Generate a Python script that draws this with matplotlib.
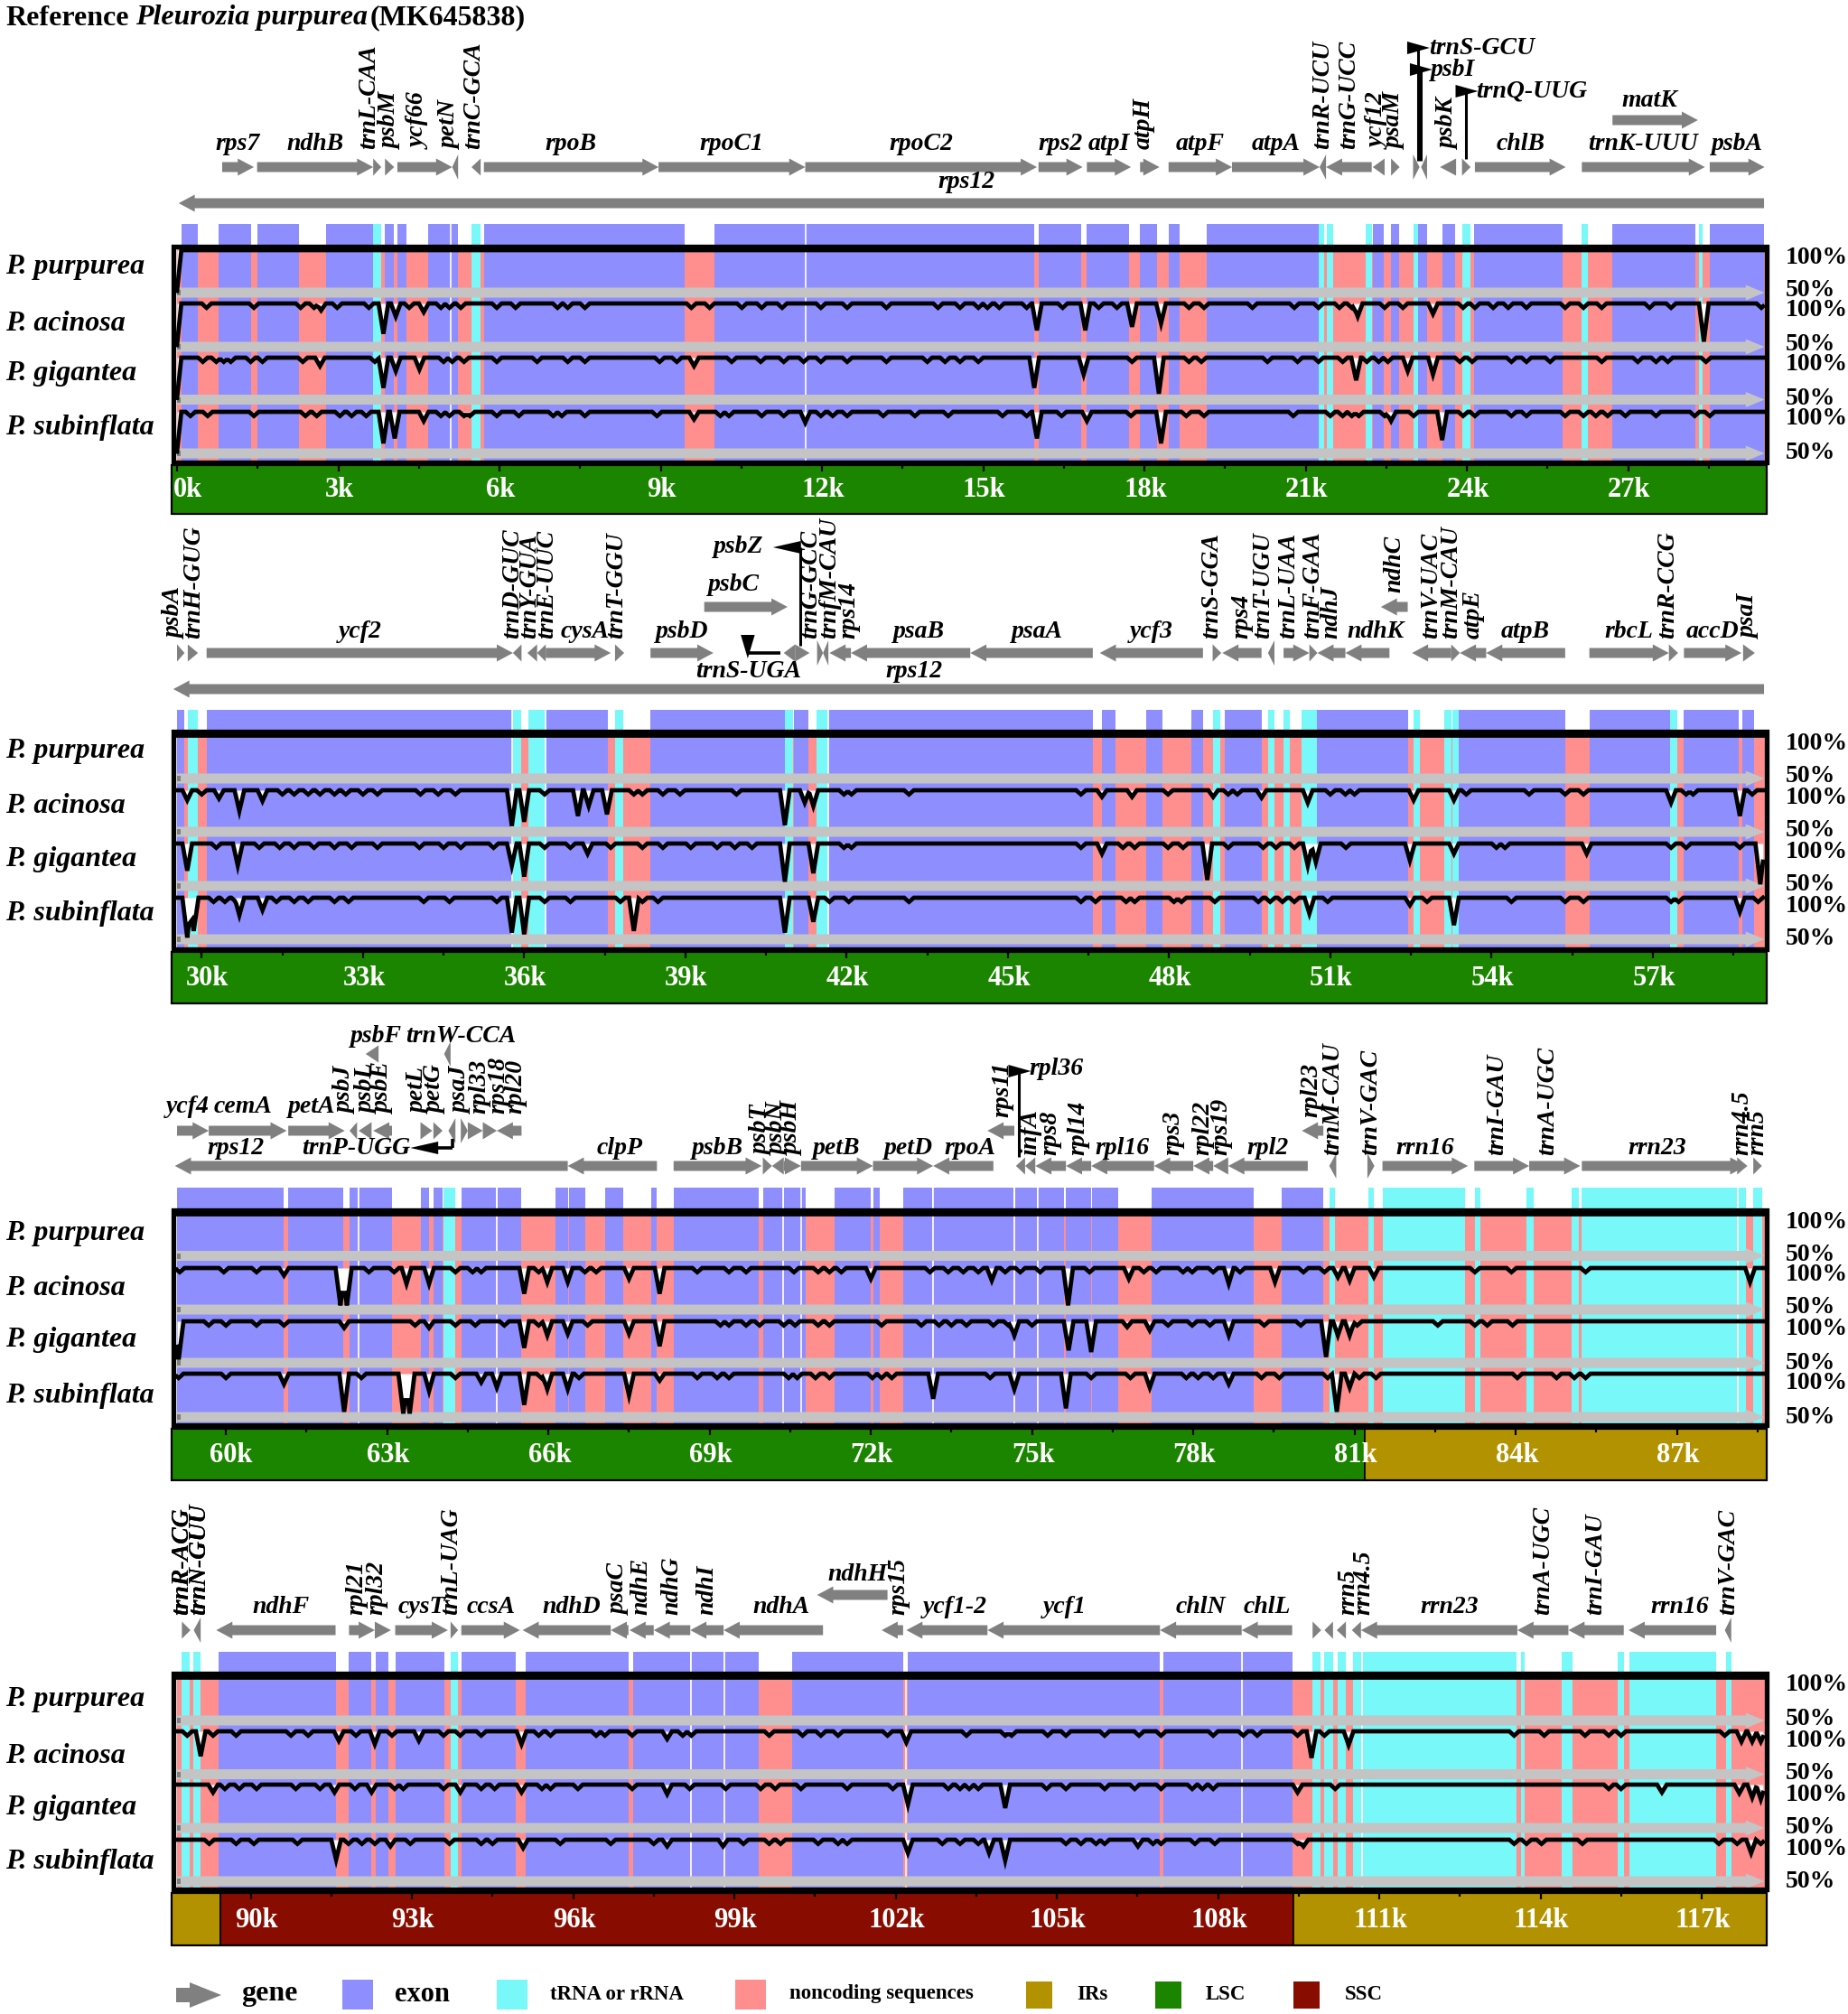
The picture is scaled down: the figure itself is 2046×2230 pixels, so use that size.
import numpy as np
import matplotlib
matplotlib.use("Agg")
import matplotlib.pyplot as plt
from matplotlib.patches import Rectangle

plt.rcParams['font.family'] = ['Liberation Serif', 'DejaVu Serif']

SPECIES = ["P. purpurea", "P. acinosa", "P. gigantea", "P. subinflata"]

# genes: name, start kb, end kb, strand
P1_GENES = [("rps7",0.84,1.43,1),("ndhB",1.49,3.65,1),("trnL-CAA",3.65,3.80,1),("psbM",3.87,4.04,1),
    ("ycf66",4.10,5.12,1),("petN",5.12,5.23,-1),("trnC-GCA",5.48,5.65,-1),("rpoB",5.71,8.96,1),
    ("rpoC1",8.96,11.69,1),("rpoC2",11.69,16.0,1),("rps2",16.03,16.85,1),("atpI",16.93,17.75,1),
    ("atpH",17.92,18.28,1),("atpF",18.45,19.63,1),("atpA",19.63,21.26,1),("trnR-UCU",21.26,21.38,-1),
    ("trnG-UCC",21.38,22.23,-1),("ycf12",22.25,22.47,-1),("psaM",22.59,22.75,1),("trnS-GCU",23.0,23.12,1),
    ("psbI",23.15,23.26,-1),("psbK",23.5,23.8,-1),("trnQ-UUG",23.91,24.07,1),("chlB",24.15,25.84,1),
    ("trnK-UUU",26.14,28.43,1),("matK",26.71,28.3,1),("psbA",28.52,29.54,1),("rps12",0.03,29.53,-1)]
P2_GENES = [("psbA",29.54,29.68,1),("trnH-GUG",29.74,29.93,1),("ycf2",30.09,35.79,1),("trnD-GUC",35.79,35.95,-1),
    ("trnY-GUA",36.06,36.24,-1),("trnE-UUC",36.24,36.40,-1),("cysA",36.40,37.61,1),("trnT-GGU",37.69,37.86,1),
    ("psbD",38.35,39.52,1),("psbC",39.35,40.9,1),("trnS-UGA",40.83,41.04,-1),("psbZ",41.04,41.31,1),
    ("trnG-GCC",41.45,41.56,1),("trnfM-CAU",41.56,41.66,-1),("rps14",41.68,42.08,-1),("psaB",42.08,44.30,-1),
    ("psaA",44.30,46.58,-1),("ycf3",46.71,48.63,-1),("trnS-GGA",48.81,48.97,1),("rps4",48.99,49.72,-1),
    ("trnT-UGU",49.84,49.96,-1),("trnL-UAA",50.13,50.61,1),("trnF-GAA",50.61,50.76,1),("ndhJ",50.76,51.28,-1),
    ("ndhK",51.28,52.10,-1),("ndhC",51.94,52.44,-1),("trnV-UAC",52.52,53.25,-1),("trnM-CAU",53.25,53.41,1),
    ("atpE",53.41,53.9,-1),("atpB",53.9,55.37,-1),("rbcL",55.82,57.3,1),("trnR-CCG",57.3,57.47,1),
    ("accD",57.58,58.65,1),("psaI",58.68,58.9,1),("rps12",29.47,59.07,-1)]
P3_GENES = [("ycf4",59.09,59.68,1),("cemA",59.68,61.13,1),("petA",61.16,62.21,1),("psbJ",62.3,62.44,-1),
    ("psbL",62.47,62.71,-1),("psbF",62.6,62.84,-1),("psbE",62.74,63.09,-1),("petL",63.62,63.84,1),
    ("petG",63.86,64.03,1),("trnW-CCA",64.06,64.18,-1),("trnP-UGG",64.14,64.27,-1),("psaJ",64.37,64.5,1),
    ("rpl33",64.5,64.78,1),("rps18",64.78,65.04,1),("rpl20",65.04,65.5,-1),("rps12",59.05,66.36,-1),
    ("clpP",66.36,68.02,-1),("psbB",68.33,69.97,1),("psbT",69.99,70.16,1),("psbN",70.16,70.38,-1),
    ("psbH",70.38,70.7,1),("petB",70.7,72.04,1),("petD",72.04,73.16,1),("rpoA",73.16,74.28,-1),
    ("rps11",74.17,74.67,-1),("rpl36",74.7,74.87,-1),("infA",74.87,75.06,-1),("rps8",75.06,75.63,-1),
    ("rpl14",75.63,76.1,-1),("rpl16",76.1,77.27,-1),("rps3",77.27,78.0,-1),("rpl22",78.0,78.37,-1),
    ("rps19",78.37,78.65,-1),("rpl2",78.65,80.13,-1),("rpl23",80.02,80.42,-1),("trnM-CAU",80.53,80.66,-1),
    ("trnV-GAC",81.24,81.37,1),("rrn16",81.52,83.11,1),("trnI-GAU",83.23,84.25,1),("trnA-UGC",84.25,85.2,1),
    ("rrn23",85.23,88.29,1),("rrn4.5",88.12,88.31,1),("rrn5",88.42,88.58,1)]
P4_GENES = [("trnR-ACG",88.72,88.88,1),("trnN-GUU",88.94,89.07,-1),("ndhF",89.36,91.58,-1),("rpl21",91.83,92.31,1),
    ("rpl32",92.31,92.61,1),("cysT",92.69,93.67,1),("trnL-UAG",93.72,93.86,1),("ccsA",93.92,95.01,1),
    ("ndhD",95.06,96.7,-1),("psaC",96.7,97.03,-1),("ndhE",97.05,97.5,-1),("ndhG",97.5,98.18,-1),
    ("ndhI",98.18,98.8,-1),("ndhA",98.8,100.65,-1),("ndhH",100.54,101.85,-1),("rps15",101.74,102.14,-1),
    ("ycf1-2",102.2,103.71,-1),("ycf1",103.71,106.92,-1),("chlN",106.92,108.44,-1),("chlL",108.44,109.38,-1),
    ("trnN-GUU",109.76,109.92,1),("trnR-ACG",109.98,110.14,-1),("rrn5",110.21,110.38,-1),("rrn4.5",110.49,110.66,-1),
    ("rrn23",110.66,113.57,-1),("trnA-UGC",113.57,114.52,-1),("trnI-GAU",114.52,115.55,-1),("rrn16",115.64,117.27,-1),
    ("trnV-GAC",117.43,117.55,-1)]

# exon and tRNA/rRNA intervals (kb)
P1_EXON = [(0.08,0.38),(0.78,1.38),(1.49,2.27),(2.78,3.65),(3.87,4.04),(4.10,4.27),(4.68,5.23),(5.71,9.45),
    (10.0,15.95),(16.04,16.82),(16.93,17.71),(17.92,18.23),(18.45,18.66),(19.16,21.24),(22.25,22.45),(22.59,22.74),
    (23.10,23.26),(23.54,23.78),(24.13,25.78),(26.71,28.25),(28.52,29.53)]
P1_RNA = [(3.65,3.80),(5.48,5.65),(21.24,21.35),(21.40,21.51),(22.12,22.23),(23.01,23.10),(23.91,24.07),(26.14,26.26),(28.32,28.39)]
P1_WHITE = [5.09,11.69]
P2_EXON = [(29.54,29.68),(30.09,35.77),(36.40,37.56),(38.35,40.85),(41.02,41.28),(41.66,46.58),(46.75,47.0),(47.57,47.87),
    (48.42,48.63),(49.03,49.72),(50.75,52.44),(53.39,55.37),(55.82,57.32),(57.58,58.6),(58.67,58.89)]
P2_RNA = [(29.75,29.92),(35.79,35.95),(36.08,36.40),(37.69,37.85),(40.85,41.0),(41.44,41.66),(48.81,48.95),(49.84,49.96),
    (50.13,50.24),(50.47,50.75),(52.55,52.66),(53.12,53.25),(53.27,53.39),(57.32,57.46)]
P2_WHITE = [35.77,36.40,41.66]
P3_EXON = [(59.09,61.08),(61.16,62.18),(62.3,62.45),(62.47,63.09),(63.63,63.78),(63.87,64.03),(64.38,65.03),(65.05,65.5),
    (66.14,66.36),(66.38,66.68),(67.05,67.4),(67.91,68.02),(68.33,69.92),(69.99,70.36),(70.38,70.78),(71.33,72.0),
    (72.05,72.16),(72.6,73.14),(73.16,74.66),(74.68,75.09),(75.11,75.6),(75.63,76.1),(76.12,76.6),(77.22,79.12),(79.64,80.41)]
P3_RNA = [(64.05,64.27),(80.53,80.64),(81.25,81.36),(81.53,83.06),(83.24,83.34),(84.2,84.34),(85.04,85.17),(85.23,88.12),(88.15,88.29),(88.42,88.58)]
P3_WHITE = [62.46,65.04,70.37,70.71,73.15,74.67,75.1,88.13]
P4_EXON = [(89.41,91.58),(91.83,92.24),(92.32,92.57),(92.69,93.61),(93.92,94.94),(95.11,97.03),(97.11,98.18),(98.2,98.8),
    (98.82,99.46),(100.07,102.14),(102.23,106.92),(106.98,108.44),(108.46,109.38)]
P4_RNA = [(88.71,88.87),(88.94,89.06),(93.73,93.86),(109.75,109.9),(109.97,110.14),(110.22,110.38),(110.51,110.66),(110.69,113.55),
    (113.63,113.7),(114.4,114.6),(115.44,115.55),(115.66,117.27),(117.45,117.55)]
P4_WHITE = [98.19,98.81,102.19,108.45,110.68]

# region bands: kb from, kb to, name
P1_REGION = [(0.0,29.54,"LSC")]
P2_REGION = [(29.54,59.09,"LSC")]
P3_REGION = [(59.09,81.19,"LSC"),(81.19,88.63,"IR")]
P4_REGION = [(88.63,89.43,"IR"),(89.43,109.40,"SSC"),(109.40,118.17,"IR")]

# identity dips: small ones (about 95%) and deep ones as (kb, % identity)
EDGE_P1 = [(0.0,52)]
P1_ACI_SMALL = [0.55,1.43,2.3,2.55,2.98,3.57,4.32,4.91,5.07,5.28,5.95,6.3,7.08,7.27,7.59,9.57,9.91,10.51,10.88,11.26,11.98,12.47,13.2,
    14.16,14.57,14.91,15.08,15.3,15.81,16.48,17.15,17.49,18.83,19.11,20.01,20.79,21.24,21.63,21.86,22.47,22.81,23.93,24.15,24.49,24.77,
    25.11,25.83,26.17,26.51,27.4,27.8,29.48]
P1_ACI_DEEP = [(2.68,92),(3.84,65),(4.07,85),(4.59,90),(16.0,69),(16.9,69),(17.77,73),(18.31,77),(21.97,85),(23.37,88),(28.41,56)]
P1_GIG_SMALL = [0.48,0.73,0.87,1.0,1.37,1.59,2.34,3.68,4.96,5.12,5.34,5.95,6.7,7.27,7.59,8.98,9.3,10.32,10.86,11.29,11.66,11.98,12.47,13.2,
    13.96,14.29,14.57,14.91,17.77,18.83,19.06,20.29,20.85,21.24,21.69,22.14,22.36,22.53,23.87,24.1,24.83,25.11,25.55,26.51,27.18,27.52,27.74,28.45]
P1_GIG_DEEP = [(2.66,90),(3.84,64),(4.07,84),(4.51,86),(9.62,90),(15.95,64),(16.87,80),(18.27,57),(21.94,73),(22.9,84),(23.37,80)]
P1_SUB_SMALL = [0.25,0.57,1.43,2.39,2.6,3.03,3.25,3.52,4.91,5.07,5.34,5.45,5.95,6.36,7.0,7.16,7.59,8.93,10.11,10.27,10.88,11.29,11.98,12.2,12.47,13.14,
    13.73,14.35,15.36,15.81,16.46,17.75,18.78,19.11,20.77,21.46,21.69,21.86,21.99,22.47,23.01,23.93,24.15,24.83,25.11,25.83,26.17,26.4,26.62,26.95,27.52,28.24,28.52]
P1_SUB_DEEP = [(3.84,62),(4.05,68),(4.59,89),(9.62,91),(11.69,87),(16.0,68),(16.93,89),(18.31,62),(22.59,89),(23.54,66)]

P2_ACI_SMALL = [30.0,31.5,31.72,31.98,32.2,32.47,32.68,33.0,33.27,34.07,34.4,34.72,36.38,38.04,38.2,38.58,38.9,39.95,41.95,42.09,
    43.16,46.36,47.98,49.1,49.27,51.0,51.28,51.45,54.7,55.37,55.71,57.62,57.75,53.53,58.85]
P2_ACI_DEEP = [(29.73,88),(30.32,90),(30.7,75),(31.13,87),(35.77,57),(36.0,62),(37.0,69),(37.2,81),(37.54,71),(40.85,58),(41.22,85),(41.38,81),
    (46.75,92),(47.31,92),(48.82,92),(49.72,91),(50.58,85),(52.55,88),(53.3,88),(57.34,85),(58.62,69)]
P2_GIG_SMALL = [30.27,31.07,31.45,31.72,32.09,32.47,32.79,33.27,34.05,34.5,34.82,35.43,36.38,36.86,37.61,38.2,38.58,39.1,39.59,39.92,40.24,41.95,42.09,
    46.36,47.14,47.36,47.98,48.26,49.1,49.75,49.99,50.33,51.29,54.09,54.25,57.34,57.62,58.62]
P2_GIG_DEEP = [(29.73,68),(30.67,74),(35.77,74),(36.0,61),(37.18,88),(40.85,55),(41.38,65),(46.75,88),(48.71,57),(50.58,74),(50.73,78),(52.48,80),(53.3,88),(55.77,88),(59.0,52)]
P2_SUB_SMALL = [30.22,30.43,30.64,31.39,31.72,31.98,32.47,32.73,34.13,34.61,35.49,36.38,36.86,37.79,38.2,38.49,41.68,42.04,
    43.16,46.36,46.63,47.2,47.36,48.09,48.23,48.85,49.66,49.88,50.11,50.33,50.95,52.8,54.37,55.37,55.71,57.34,57.48,58.96]
P2_SUB_DEEP = [(29.73,52),(29.85,60),(30.7,79),(31.13,85),(35.77,58),(36.0,56),(38.04,60),(40.85,58),(41.38,71),(50.61,81),(52.48,91),(53.3,67),(58.62,83)]

P3_ACI_SMALL = [59.14,59.96,60.57,62.66,63.13,64.27,64.59,64.75,65.82,66.68,66.89,68.77,69.36,69.68,70.57,71.02,71.23,71.45,
    73.1,73.44,73.72,74.0,74.5,74.78,75.15,76.07,77.08,77.31,77.81,77.98,78.37,78.87,80.05,80.44,83.24,83.92,85.3]
P3_ACI_DEEP = [(61.08,91),(62.13,55),(62.25,55),(63.36,81),(63.78,81),(65.55,69),(65.98,83),(66.36,83),(67.5,87),(68.07,69),(72.0,87),
    (74.25,85),(75.67,55),(76.8,87),(78.66,81),(79.52,83),(80.69,89),(80.91,85),(81.36,89),(88.36,83)]
P3_GIG_SMALL = [59.68,60.0,60.57,61.08,63.52,64.27,64.64,65.18,65.82,66.73,69.2,69.36,69.68,69.93,70.38,70.59,71.02,71.23,72.2,
    72.94,73.27,73.5,73.78,74.28,74.56,75.0,77.53,77.98,78.31,79.32,80.0,81.05,82.55,83.24,83.47,83.94]
P3_GIG_DEEP = [(59.12,54),(62.2,92),(63.78,92),(65.55,68),(65.98,83),(66.36,85),(67.5,85),(68.07,70),(74.67,83),(75.68,65),(76.1,63),(76.77,93),(77.19,89),
    (78.66,83),(80.47,57),(80.69,83),(80.91,83)]
P3_SUB_SMALL = [59.12,60.0,62.52,64.27,65.87,66.57,68.77,69.14,69.36,70.47,70.63,70.97,71.23,72.03,72.2,72.39,
    74.22,76.1,76.83,77.87,78.09,78.37,79.27,79.6,80.5,81.09,81.4,84.03,84.76,85.09,85.3]
P3_SUB_DEEP = [(61.08,88),(62.2,56),(63.3,54),(63.42,54),(63.78,80),(64.75,90),(65.04,84),(65.55,64),(65.98,82),(66.36,82),(67.5,75),(68.07,92),
    (73.16,71),(74.67,82),(75.63,60),(77.19,84),(78.66,88),(80.67,56),(80.91,84)]

P4_ACI_SMALL = [88.82,89.3,89.73,90.75,91.07,91.96,92.63,93.59,93.9,94.29,95.36,95.58,96.43,96.59,97.1,98.04,98.2,99.65,100.27,100.61,100.93,101.85,
    103.32,104.04,104.16,104.83,105.17,105.89,106.53,106.94,107.91,108.47,108.73,109.48,109.98,113.51,114.07,114.83,115.27,115.5,117.43]
P4_ACI_DEEP = [(89.07,71),(91.64,89),(92.31,85),(93.13,89),(95.04,85),(97.75,91),(102.2,87),(109.74,69),(110.43,84),(117.74,88),(117.94,88),(118.1,88)]
P4_GIG_SMALL = [89.52,89.79,90.11,90.84,91.29,91.94,92.68,92.84,93.59,94.29,94.54,95.42,95.58,96.09,97.1,98.17,98.84,99.49,99.76,100.24,101.1,101.95,
    102.98,103.2,103.37,103.54,104.81,105.17,105.89,106.45,106.94,107.52,107.71,107.91,110.18,115.27,115.5]
P4_GIG_DEEP = [(89.3,91),(91.56,91),(92.25,91),(93.9,91),(95.04,91),(97.75,89),(102.23,77),(104.04,73),(109.48,91),(116.26,91),(117.7,90),(117.94,85),(118.1,83)]
P4_SUB_SMALL = [89.23,89.73,90.06,90.87,91.82,92.07,92.31,92.97,93.7,94.29,94.5,95.76,96.7,97.5,99.17,99.65,99.86,100.56,100.93,101.1,
    102.87,103.2,103.54,105.17,105.45,105.73,105.89,106.79,106.94,107.57,107.94,109.48,113.51,113.74,114.02,114.78,117.32,117.66,118.1]
P4_SUB_DEEP = [(91.59,76),(92.6,92),(95.07,90),(97.75,92),(98.79,92),(102.23,84),(103.74,84),(104.04,75),(106.51,92),(109.59,92),(117.92,84)]

CONS = "#808080"

# layout per panel, in figure pixels
PANELS = [
    dict(start=0.0, genes=P1_GENES, exon=P1_EXON, rna=P1_RNA, white=P1_WHITE, region=P1_REGION,
         dips=[(EDGE_P1,[],[]),(EDGE_P1,P1_ACI_SMALL,P1_ACI_DEEP),(EDGE_P1,P1_GIG_SMALL,P1_GIG_DEEP),(EDGE_P1,P1_SUB_SMALL,P1_SUB_DEEP)],
         exon_y=(248,271), box_y=(273,512), band_y=(515,569),
         tops=[277,336,396,456], grays=[324,384,442.5,502], name_y=[295,358,414,474], pct_y=[(285,321),(344,381),(404,441),(464,501)],
         row=185, rows={"matK":133,"rps12":225}, rot_off=20, hor_off=25,
         rotated={"trnL-CAA","psbM","ycf66","petN","trnC-GCA","atpH","trnR-UCU","trnG-UCC","ycf12","psaM","psbK"},
         label_xy={"rps12":(14.69,202),"matK":(27.4,111),"trnL-CAA":(3.57,None),"psbM":(3.98,None),"ycf66":(4.51,None),"petN":(5.09,None),"trnC-GCA":(5.52,None),
                   "atpH":(17.99,None),"trnS-GCU":None,"psbI":None,"trnQ-UUG":None},
         flags=[("trnS-GCU",23.09,178,53,"r",23.3,53),("psbI",23.14,178,77,"r",23.32,77),("trnQ-UUG",23.99,176,101,"r",24.17,101)]),
    dict(start=29.54, genes=P2_GENES, exon=P2_EXON, rna=P2_RNA, white=P2_WHITE, region=P2_REGION,
         dips=[([],[],[]),([],P2_ACI_SMALL,P2_ACI_DEEP),([],P2_GIG_SMALL,P2_GIG_DEEP),([],P2_SUB_SMALL,P2_SUB_DEEP)],
         exon_y=(786,808), box_y=(810,1051), band_y=(1054,1111),
         tops=[814,875,934,994], grays=[862,921,981,1040], name_y=[832,893,951,1011], pct_y=[(824,859),(884,920),(944,980),(1004,1040)],
         row=723, rows={"psbC":672,"ndhC":672,"rps12":763}, rot_off=16, hor_off=23,
         rotated={"psbA","trnH-GUG","trnD-GUC","trnY-GUA","trnE-UUC","trnT-GGU","trnG-GCC","trnfM-CAU","rps14","trnS-GGA","rps4","trnT-UGU",
                  "trnL-UAA","trnF-GAA","ndhJ","ndhC","trnV-UAC","trnM-CAU","atpE","trnR-CCG","psaI"},
         label_xy={"rps12":(43.26,744),"psbC":(39.9,647),"psbA":(29.5,None),"trnH-GUG":(29.86,None),"trnD-GUC":(35.79,None),"trnY-GUA":(36.11,None),"trnE-UUC":(36.43,None),
                   "trnT-GGU":(37.72,None),"trnG-GCC":(41.34,None),"trnfM-CAU":(41.68,None),"rps14":(42.04,None),"cysA":(37.13,None),"psaB":(43.34,None),"psaA":(45.54,None),
                   "trnS-GGA":(48.8,None),"trnT-UGU":(49.75,None),"trnL-UAA":(50.22,None),"ndhK":(51.85,None),"trnM-CAU":(53.25,None),"trnR-CCG":(57.28,None),
                   "trnS-UGA":None,"psbZ":None},
         flags=[("psbZ",41.13,715,606,"l",39.99,606),("trnS-UGA",40.77,723,723,"d",40.18,744)]),
    dict(start=59.09, genes=P3_GENES, exon=P3_EXON, rna=P3_RNA, white=P3_WHITE, region=P3_REGION,
         dips=[([],[],[]),([],P3_ACI_SMALL,P3_ACI_DEEP),([],P3_GIG_SMALL,P3_GIG_DEEP),([],P3_SUB_SMALL,P3_SUB_DEEP)],
         exon_y=(1315,1338), box_y=(1340,1578), band_y=(1582,1639),
         tops=[1344,1404,1463,1521], grays=[1390.5,1450,1509,1569], name_y=[1365,1427,1484,1545], pct_y=[(1353,1389),(1412,1448),(1472,1509),(1532,1569)],
         row=1291,
         rows={n:1252 for n in ("ycf4","cemA","petA","psbJ","psbL","psbE","petL","petG","trnP-UGG","psaJ","rpl33","rps18","rpl20","rps11","rpl23")}|{"psbF":1167,"trnW-CCA":1167},
         rot_off=12, hor_off=19,
         rotated={"psbJ","psbL","psbE","petL","petG","psaJ","rpl33","rps18","rpl20","psbT","psbN","psbH","rps11","infA","rps8","rpl14","rps3","rpl22","rps19","rpl23",
                  "trnM-CAU","trnV-GAC","trnI-GAU","trnA-UGC","rrn4.5","rrn5"},
         label_xy={"ycf4":(59.28,1225),"cemA":(60.32,1225),"petA":(61.59,1225),"psbJ":(62.23,1233),"psbL":(62.63,1233),"psbE":(62.93,1233),"petL":(63.59,1233),"petG":(63.91,1233),
                   "psaJ":(64.37,1233),"rpl33":(64.72,1233),"rps18":(65.07,1233),"rpl20":(65.39,1233),"rps11":(74.45,1237),"rpl23":(80.2,1237),"psbF":(62.79,1147),"trnW-CCA":(64.37,1147),
                   "rps12":(60.19,1272),"clpP":(67.32,None),"psbT":(69.97,None),"petD":(72.71,None),"rpoA":(73.85,None),"trnA-UGC":(84.59,None),"trnI-GAU":(83.66,None),"rrn23":(86.64,None),
                   "trnP-UGG":None,"rpl36":None},
         flags=[("trnP-UGG",64.21,1261,1271,"l",63.43,1272),("rpl36",74.76,1281,1186,"r",74.95,1184)]),
    dict(start=88.63, genes=P4_GENES, exon=P4_EXON, rna=P4_RNA, white=P4_WHITE, region=P4_REGION,
         dips=[([],[],[]),([],P4_ACI_SMALL,P4_ACI_DEEP),([],P4_GIG_SMALL,P4_GIG_DEEP),([],P4_SUB_SMALL,P4_SUB_DEEP)],
         exon_y=(1829,1851), box_y=(1853,2092), band_y=(2096,2154),
         tops=[1857,1917,1976,2037], grays=[1905,1964.5,2024,2083], name_y=[1881,1944,2001,2062], pct_y=[(1866,1903),(1927,1963),(1987,2023),(2047,2083)],
         row=1805, rows={"ndhH":1766}, rot_off=17, hor_off=26,
         rotated={"trnR-ACG","trnN-GUU","rpl21","rpl32","trnL-UAG","psaC","ndhE","ndhG","ndhI","rps15","trnR-ACG","rrn5","rrn4.5","trnA-UGC","trnI-GAU","trnV-GAC"},
         label_xy={"ndhH":(101.29,1744),"trnR-ACG":(88.72,None),"trnN-GUU":(89.04,None),"rpl21":(91.98,None),"rpl32":(92.34,None),"trnL-UAG":(93.73,None),"ndhF":(90.56,None),
                   "ndhD":(95.97,None),"ndhA":(99.87,None),"rps15":(102.06,None),"ycf1-2":(103.11,None),"ycf1":(105.14,None),"rrn5":(110.43,None),"rrn4.5":(110.71,None),
                   "rrn23":(112.31,None),"rrn16":(116.59,None)},
         flags=[]),
]

PX_PER_KB = 59.5
LEFT_PX = 196
W, H = 2046, 2230
COL_EXON, COL_RNA, COL_NC = "#8e8eff", "#78f8f8", "#ff8e8e"
COL_REGION = {"LSC": "#1c8500", "IR": "#b39200", "SSC": "#880c00"}
SERIF = dict(weight="bold", style="italic")


def gene_arrow(ax, x0, x1, y, strand, color=CONS):
    # plain block arrow, kb along x and pixels along y
    width = x1 - x0
    head = 0.3
    bar = 5.5
    half = 9.5
    if width < 0.14:
        half = 14
    if width <= head:
        xs = [x0, x1, x0] if strand > 0 else [x1, x0, x1]
        ys = [y - half, y, y + half]
    elif strand > 0:
        n = x1 - head
        xs = [x0, n, n, x1, n, n, x0]
        ys = [y - bar, y - bar, y - half, y, y + half, y + bar, y + bar]
    else:
        n = x0 + head
        xs = [x1, n, n, x0, n, n, x1]
        ys = [y - bar, y - bar, y - half, y, y + half, y + bar, y + bar]
    ax.fill(xs, ys, color=color, lw=0, zorder=3)


def flag(ax, x, y, direction):
    if direction == "r":
        xs, ys = [x - 0.2, x + 0.22, x - 0.2], [y - 7, y, y + 7]
    elif direction == "l":
        xs, ys = [x + 0.02, x - 0.5, x + 0.02], [y - 7, y, y + 7]
    else:
        xs, ys = [x - 0.13, x + 0.13, x], [y - 16, y - 16, y + 10]
    ax.fill(xs, ys, color="black", lw=0, zorder=4)


def track_curve(edge, small, deep, x0, x1):
    dips = [(p, 95.0) for p in small] + list(deep)
    half = 0.09
    xs = {x0, x1}
    for p, v in dips:
        xs.update([p - half, p, p + half])
    for p, v in edge:
        xs.update([p, p + 0.08])
    xs = np.array(sorted(x for x in xs if x0 <= x <= x1))
    ys = np.full(len(xs), 100.0)
    for p, v in dips:
        ys = np.minimum(ys, np.interp(xs, [p - half, p, p + half], [100, v, 100]))
    for p, v in edge:
        ys = np.minimum(ys, np.interp(xs, [p, p + 0.08], [v, 100]))
    return xs, ys


def draw_panel(fig, p):
    ax = fig.add_axes([0, 0, 1, 1], facecolor="none")
    start = p["start"]
    end = start + 29.54
    ax.set_xlim(start - LEFT_PX / PX_PER_KB, start + (W - LEFT_PX) / PX_PER_KB)
    ax.set_ylim(H, 0)
    ax.axis("off")

    box_top, box_bot = p["box_y"]
    # coloured bands, with noncoding showing through between the exons
    ax.fill_between([start, end], box_top, box_bot, color=COL_NC, lw=0, zorder=1)
    for a, b in p["exon"]:
        ax.fill_between([a, b], box_top, box_bot, color=COL_EXON, lw=0, zorder=1.1)
        ax.fill_between([a, b], p["exon_y"][0], p["exon_y"][1], color=COL_EXON, lw=0, zorder=1.1)
    for a, b in p["rna"]:
        ax.fill_between([a, b], box_top, box_bot, color=COL_RNA, lw=0, zorder=1.2)
        ax.fill_between([a, b], p["exon_y"][0], p["exon_y"][1], color=COL_RNA, lw=0, zorder=1.2)
    for x in p["white"]:
        ax.vlines(x, box_top, box_bot, color="white", lw=1.2, zorder=1.3)
        ax.vlines(x, p["exon_y"][0], p["exon_y"][1], color="white", lw=1.2, zorder=1.3)

    # identity tracks
    for top, gray, (edge, small, deep) in zip(p["tops"], p["grays"], p["dips"]):
        head_x = end - 0.35
        ax.fill([start, head_x, head_x, end, head_x, head_x, start],
                [gray - 5.5, gray - 5.5, gray - 8.5, gray, gray + 8.5, gray + 5.5, gray + 5.5],
                color="#c4c4c4", lw=0, zorder=1.5)
        ax.fill_between([start, start + 0.06], gray - 3, gray + 3, color=CONS, lw=0, zorder=1.6)
        xs, ys = track_curve(edge, small, deep, start, end - 0.03)
        yy = top + (100 - ys) * (gray - top) / 50.0
        ax.fill_between(xs, top, yy, color="white", lw=0, zorder=2)
        ax.plot(xs, yy, color="black", lw=3.4, zorder=2.2, solid_joinstyle="miter")

    ax.add_patch(Rectangle((start - 0.06, box_top), 29.54 + 0.1, box_bot - box_top, fill=False,
                           edgecolor="black", lw=3.8, zorder=2.5))

    # region band with ticks
    band_top, band_bot = p["band_y"]
    for a, b, name in p["region"]:
        a = start - 0.1 if a == start else a
        b = end + 0.04 if b >= end - 0.01 else b
        ax.add_patch(Rectangle((a, band_top), b - a, band_bot - band_top, facecolor=COL_REGION[name],
                               edgecolor="black", lw=1.2, zorder=1))
    ax.add_patch(Rectangle((start - 0.1, band_top), 29.54 + 0.14, band_bot - band_top, fill=False,
                           edgecolor="black", lw=1.6, zorder=1.5))
    first = np.ceil(start / 1.5) * 1.5
    for t in np.arange(first, end, 1.5):
        major = abs(t / 3 - round(t / 3)) < 1e-6
        ax.vlines(t, band_top - 1, band_top + (7 if major else 4), color="black", lw=1.6, zorder=3)
        if major:
            off = 0.2 if t == 0 else (0.1 if t - start < 1.5 else 0.02)
            ax.text(t + off, (band_top + band_bot) / 2 + 1, "%dk" % t, color="white", fontsize=22,
                    weight="bold", ha="center", va="center", zorder=4)

    # genes and their labels
    for name, g0, g1, strand in p["genes"]:
        y = p["rows"].get(name, p["row"])
        gene_arrow(ax, max(g0, start - 0.1), g1, y, strand)
        xy = p["label_xy"].get(name, (None, None))
        if xy is None:
            continue
        lx = xy[0] if xy[0] is not None else (g0 + g1) / 2
        ly = xy[1]
        if name in p["rotated"]:
            ax.text(lx, (y - p["rot_off"]) if ly is None else ly, name, rotation=90, fontsize=20,
                    ha="center", va="bottom", zorder=5, **SERIF)
        else:
            ax.text(lx, (y - p["hor_off"]) if ly is None else ly, name, fontsize=20,
                    ha="center", va="center", zorder=5, **SERIF)

    # leader lines for the small genes with a flag label
    for name, lx, y_from, y_to, direction, tx, ty in p["flags"]:
        if name == "trnP-UGG":
            ax.vlines(lx, y_from, y_to, color="black", lw=2.6, zorder=4)
            ax.hlines(y_to, lx - 0.35, lx, color="black", lw=2.6, zorder=4)
            flag(ax, lx - 0.28, y_to, "l")
        elif direction in "rl":
            ax.vlines(lx, y_to, y_from, color="black", lw=2.2, zorder=4)
            flag(ax, lx, y_to, direction)
        else:
            ax.hlines(y_from, tx, lx, color="black", lw=2.6, zorder=4)
            flag(ax, tx - 0.02, y_from - 4, "d")
        ha = "left" if direction == "r" else ("right" if name == "trnP-UGG" else "center")
        ax.text(tx, ty, name, fontsize=20, ha=ha, va="center", zorder=5, **SERIF)

    # species names and percent labels
    for label, y in zip(SPECIES, p["name_y"]):
        ax.text(start - (LEFT_PX - 6) / PX_PER_KB, y, label, fontsize=23, ha="left", va="center", **SERIF)
    for y100, y50 in p["pct_y"]:
        ax.text(start + (1977 - LEFT_PX) / PX_PER_KB, y100, "100%", fontsize=20, weight="bold", ha="left", va="center")
        ax.text(start + (1977 - LEFT_PX) / PX_PER_KB, y50, "50%", fontsize=20, weight="bold", ha="left", va="center")


fig = plt.figure(figsize=(W / 100, H / 100), dpi=100, facecolor="white")
for panel in PANELS:
    draw_panel(fig, panel)

# title and legend, placed in pixels
top = fig.add_axes([0, 0, 1, 1], facecolor="none")
top.set_xlim(0, W)
top.set_ylim(H, 0)
top.axis("off")
top.text(6, 20, "Reference", fontsize=23, weight="bold", ha="left", va="center")
top.text(150, 20, "Pleurozia purpurea", fontsize=23, ha="left", va="center", **SERIF)
top.text(410, 20, "(MK645838)", fontsize=23, weight="bold", ha="left", va="center")

top.fill([195, 210, 210, 245, 210, 210, 195], [2201, 2201, 2195, 2209, 2223, 2217, 2217], color=CONS, lw=0)
top.text(267, 2208, "gene", fontsize=23, weight="bold", ha="left", va="center")
legend_patches = [(379, COL_EXON, 437, "exon", 22), (550, COL_RNA, 609, "tRNA or rRNA", 16.5),
                  (814, COL_NC, 874, "noncoding sequences", 16.5)]
for px, col, tx, label, size in legend_patches:
    top.add_patch(Rectangle((px, 2192), 34, 33, facecolor=col, lw=0))
    top.text(tx, 2208, label, fontsize=size, weight="bold", ha="left", va="center")
for px, col, tx, label in [(1136, COL_REGION["IR"], 1192, "IRs"), (1279, COL_REGION["LSC"], 1335, "LSC"),
                           (1432, COL_REGION["SSC"], 1489, "SSC")]:
    top.add_patch(Rectangle((px, 2194), 29, 30, facecolor=col, lw=0))
    top.text(tx, 2209, label, fontsize=16.5, weight="bold", ha="left", va="center")

fig.savefig("out.png", dpi=100)
